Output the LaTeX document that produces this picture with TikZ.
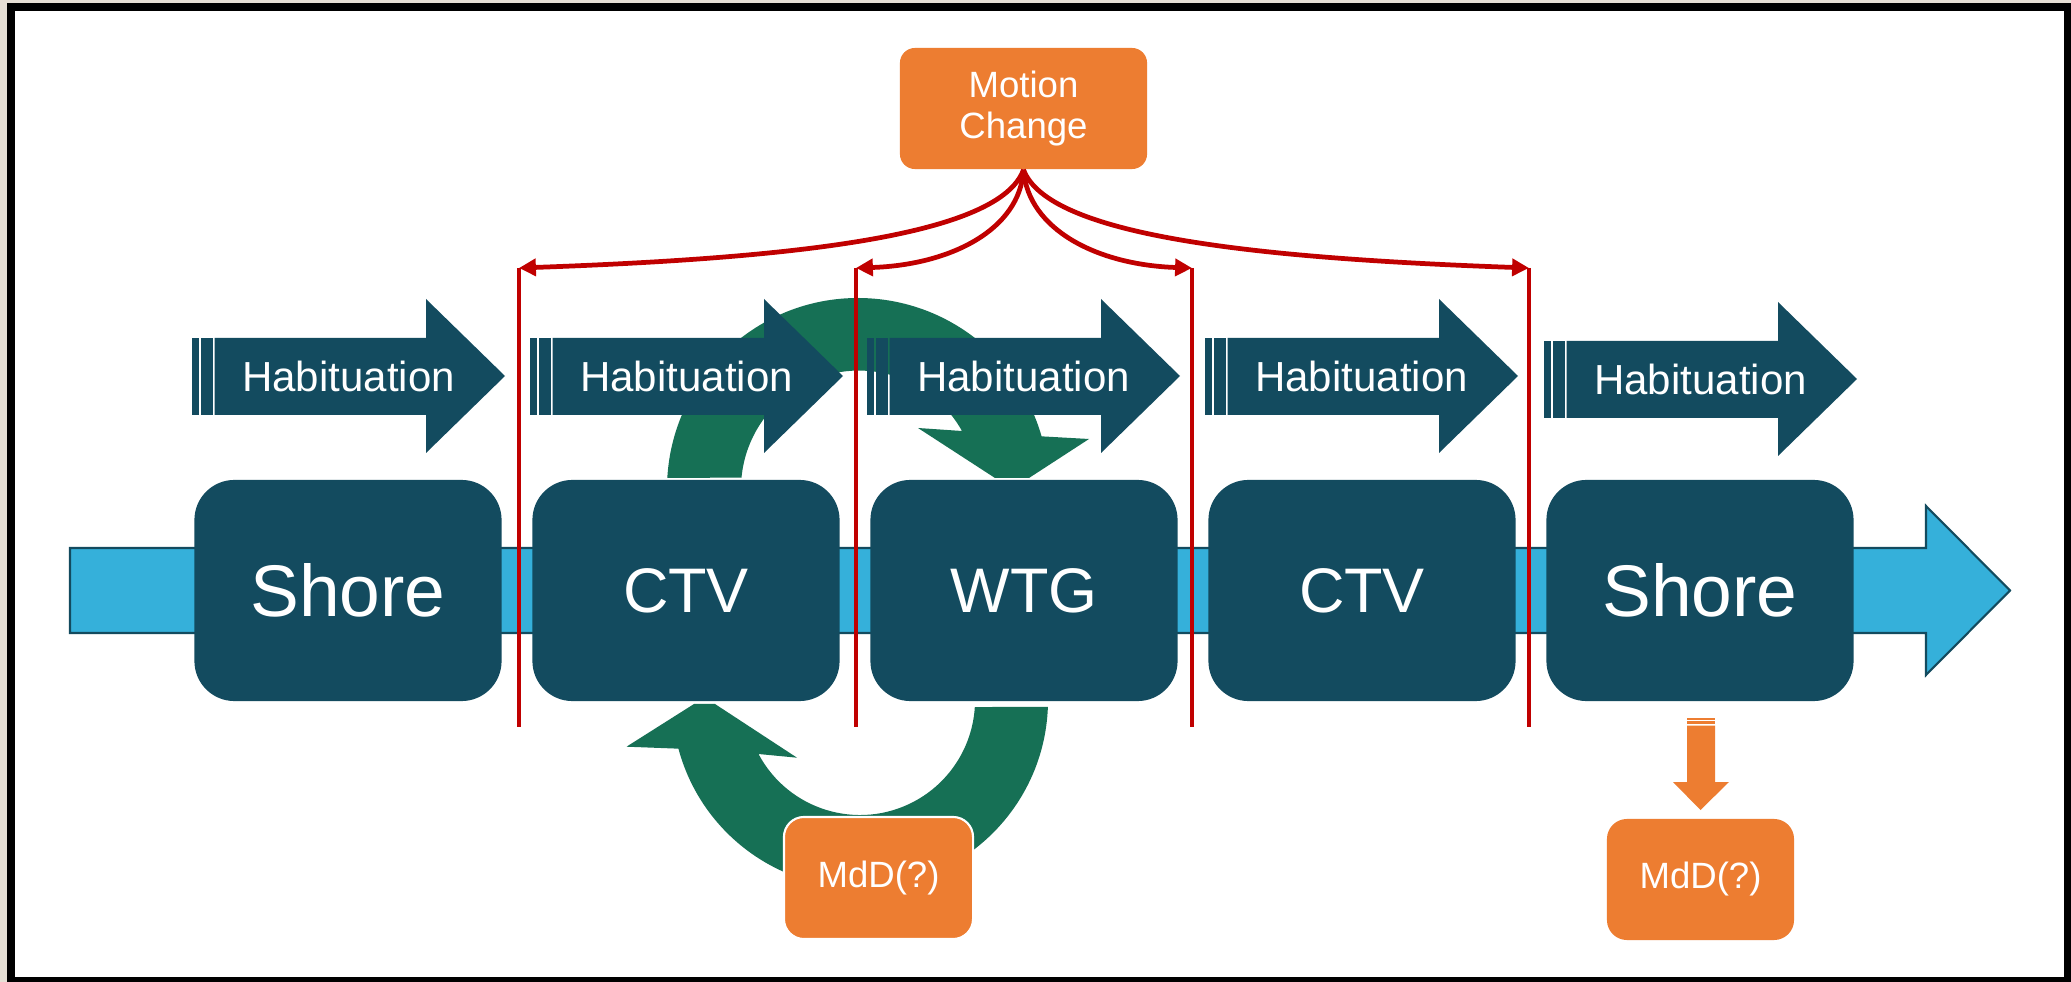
\documentclass[tikz,border=0pt]{standalone}
\usepackage{fontspec}
\setmainfont{Liberation Sans}
\usetikzlibrary{arrows.meta}
\definecolor{boxteal}{HTML}{134B5F}
\definecolor{arcgreen}{HTML}{167055}
\definecolor{flowblue}{HTML}{35B0DA}
\definecolor{mcorange}{HTML}{ED7D31}
\definecolor{linered}{HTML}{C00000}
\definecolor{framebeige}{HTML}{E6DFD5}
\newcommand{\HabArrow}[3]{%
  \begin{scope}[shift={(#1,-#2)}]
    \fill[boxteal] (0,-338) rectangle (7,-415);
    \fill[boxteal] (8.7,-338) rectangle (21,-415);
    \fill[boxteal] (22.6,-338) -- (234,-338) -- (234,-299) -- (313,-376)
      -- (234,-453) -- (234,-415) -- (22.6,-415) -- cycle;
    \node[habtext] (#3) at (156.5,-376) {Habituation};
  \end{scope}}
\begin{document}
\begin{tikzpicture}[x=0.01cm,y=0.01cm,
  bigbox/.style={fill=boxteal, rounded corners=0.4cm, minimum width=3.07cm,
    minimum height=2.21cm, inner sep=0pt, text=white},
  shorefont/.style={font=\fontsize{20.8}{24}\selectfont},
  vesselfont/.style={font=\fontsize{17.9}{21}\selectfont},
  habtext/.style={text=white, inner sep=0pt, font=\fontsize{11.95}{14}\selectfont},
  orangebox/.style={fill=mcorange, text=white, inner sep=0pt, align=center,
    font=\fontsize{10.4}{11.7}\selectfont},
  vline/.style={draw=linered, line width=1.1pt},
  redcurve/.style={draw=linered, line width=1.35pt,
    -{Triangle[length=4.8pt,width=4.8pt]}}
]
\useasboundingbox (0,0) rectangle (2071,-982);
% frame
\fill[framebeige] (0,0) rectangle (2071,-982);
\fill[black] (7,-3) rectangle (2071,-982);
\fill[white] (15,-11) rectangle (2064,-977);

% green circular arrows
\fill[arcgreen] (667.3,-478) arc[start angle=176.7, end angle=16, radius=191]
  -- (1089,-439) -- (1029,-478) -- (995,-478) -- (918,-428) -- (962,-431)
  arc[start angle=29.2, end angle=174.65, radius=118] -- cycle;
\fill[arcgreen] (1047.9,-706.9) arc[start angle=-2.1, end angle=-165, radius=188]
  -- (626.5,-746.7) -- (694,-704) -- (715,-704) -- (797,-757.7) -- (758.5,-754)
  arc[start angle=-152, end angle=-3.5, radius=115] -- cycle;

% light blue flow arrow
\filldraw[fill=flowblue, draw=boxteal, line width=0.6pt]
  (70,-548) -- (1926,-548) -- (1926,-506) -- (2010,-590.5) -- (1926,-675)
  -- (1926,-633) -- (70,-633) -- cycle;

% main boxes
\node[bigbox, shorefont] (shoreA) at (348,-590.5) {Shore};
\node[bigbox, vesselfont] (ctvA) at (686,-590.5) {CTV};
\node[bigbox, vesselfont] (wtg) at (1024,-590.5) {WTG};
\node[bigbox, vesselfont] (ctvB) at (1362,-590.5) {CTV};
\node[bigbox, shorefont] (shoreB) at (1700,-590.5) {Shore};

% habituation arrows
\HabArrow{192}{0}{habA}
\HabArrow{530}{0}{habB}
\HabArrow{867}{0}{habC}
\HabArrow{1205}{0}{habD}
\HabArrow{1544}{3}{habE}

% Motion change box
\node[orangebox, rounded corners=0.15cm, minimum width=2.47cm, minimum height=1.21cm]
  (mc) at (1023.5,-108.5) {Motion\\Change};

% red separators
\coordinate (vA) at (519,-268);  \coordinate (vAb) at (519,-727);
\coordinate (vB) at (856,-268);  \coordinate (vBb) at (856,-727);
\coordinate (vC) at (1192,-268); \coordinate (vCb) at (1192,-727);
\coordinate (vD) at (1529,-268); \coordinate (vDb) at (1529,-727);
\draw[vline] (vA) -- (vAb);
\draw[vline] (vB) -- (vBb);
\draw[vline] (vC) -- (vCb);
\draw[vline] (vD) -- (vDb);
\draw[redcurve] (mc.south) .. controls (1000,-235) and (800,-258) .. (vA);
\draw[redcurve] (mc.south) .. controls (1020,-230) and (950,-265) .. (vB);
\draw[redcurve] (mc.south) .. controls (1028,-230) and (1098,-265) .. (vC);
\draw[redcurve] (mc.south) .. controls (1048,-235) and (1248,-258) .. (vD);

% MdD boxes
\node[orangebox, draw=white, line width=0.6pt, rounded corners=0.2cm,
  minimum width=1.89cm, minimum height=1.22cm] (mddA) at (878.5,-878) {MdD(?)};
\node[orangebox, rounded corners=0.2cm,
  minimum width=1.87cm, minimum height=1.21cm] (mddB) at (1700.5,-879.5) {MdD(?)};

% orange striped down arrow
\fill[mcorange] (1687,-718) rectangle (1715,-719.8);
\fill[mcorange] (1687,-720.8) rectangle (1715,-724.2);
\fill[mcorange] (1687,-725.6) -- (1715,-725.6) -- (1715,-782) -- (1729,-782)
  -- (1700.5,-810) -- (1673,-782) -- (1687,-782) -- cycle;
\end{tikzpicture}
\end{document}
